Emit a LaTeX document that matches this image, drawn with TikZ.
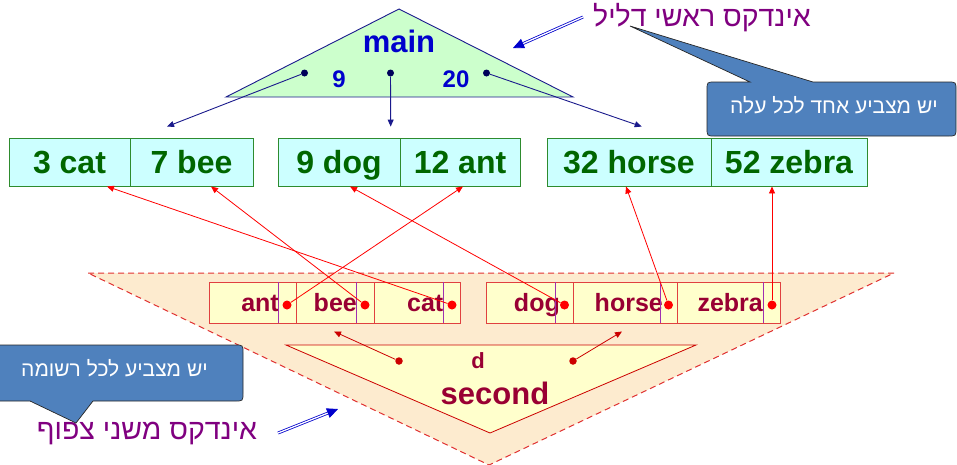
\documentclass[tikz,border=0pt]{standalone}
\usepackage{fontspec}
\setmainfont{Liberation Sans}
\newfontfamily\hebfont[Script=Hebrew]{Liberation Sans}
\TeXXeTstate=1
\usetikzlibrary{arrows.meta}

\definecolor{navy}{HTML}{1A1A8C}
\definecolor{mainblue}{HTML}{0000CC}
\definecolor{dotnavy}{HTML}{00005A}
\definecolor{treegreen}{HTML}{CCFFCC}
\definecolor{leaffill}{HTML}{CCFFFF}
\definecolor{leafborder}{HTML}{2E8B2E}
\definecolor{leaftext}{HTML}{006600}
\definecolor{peach}{HTML}{FDEBCF}
\definecolor{dashred}{HTML}{E03030}
\definecolor{paleyellow}{HTML}{FFFFCC}
\definecolor{cellred}{HTML}{E04040}
\definecolor{crimson}{HTML}{990033}
\definecolor{keypurple}{HTML}{A030B0}
\definecolor{ptrred}{HTML}{FF0000}
\definecolor{darkred}{HTML}{CC0000}
\definecolor{calloutblue}{HTML}{4F81BD}
\definecolor{titlepurple}{HTML}{800080}
\definecolor{dblblue}{HTML}{0000CC}

\begin{document}
\begin{tikzpicture}[x=1pt,y=-1pt,
  leaf/.style={draw=leafborder, line width=0.9pt, fill=leaffill, minimum height=48pt,
    inner sep=0pt, text height=22.5pt, text depth=0pt, text=leaftext,
    font=\fontsize{32}{36}\selectfont\bfseries},
  cell/.style={draw=cellred, line width=1pt, fill=paleyellow, minimum height=41pt, inner sep=0pt},
  celltext/.style={anchor=base east, inner sep=0pt, text=crimson,
    font=\fontsize{25}{30}\selectfont\bfseries},
  keyline/.style={draw=keypurple, line width=0.9pt},
  reddot/.style={circle, fill=ptrred, inner sep=0pt, minimum size=9pt},
  innerdot/.style={circle, fill=darkred, inner sep=0pt, minimum size=7.5pt},
  topdot/.style={circle, fill=dotnavy, inner sep=0pt, minimum size=7pt},
  redptr/.style={draw=ptrred, line width=0.8pt, -{Triangle[length=7pt,width=6pt]}},
  innerptr/.style={draw=darkred, line width=0.8pt, -{Triangle[length=7pt,width=6pt]}},
  blueptr/.style={draw=navy, line width=0.9pt, -{Triangle[length=7pt,width=6pt]}},
  dblarrow/.style={draw=dblblue, double=white, double distance=1.3pt, line width=0.8pt,
    -{Triangle[length=11pt,width=10pt]}},
  callout/.style={fill=calloutblue, draw=black!85, line width=0.7pt},
  callouttext/.style={text=white, font=\hebfont\fontsize{21}{24}\selectfont},
  title/.style={text=titlepurple, font=\hebfont\fontsize{28.5}{32}\selectfont}
]
\useasboundingbox (0,0) rectangle (957,464);

% ---------- secondary dense index (outer band) ----------
\draw[fill=peach, draw=dashred, line width=1pt, dash pattern=on 6pt off 4pt]
  (88,273) -- (894,273) -- (489,465) -- cycle;
\draw[fill=paleyellow, draw=darkred, line width=0.8pt]
  (286,345) -- (696,345) -- (490,433) -- cycle;
\node[anchor=base, inner sep=0pt, text=crimson, font=\fontsize{22}{26}\selectfont\bfseries]
  (dlabel) at (478,368) {d};
\node[anchor=base, inner sep=0pt, text=crimson, font=\fontsize{31}{36}\selectfont\bfseries]
  (second) at (495,404) {second};

% record cells of the secondary index
\node[cell, minimum width=87pt]   (sant)   at (252.5,302.5) {};
\node[cell, minimum width=78pt]   (sbee)   at (335,302.5) {};
\node[cell, minimum width=86pt]   (scat)   at (417,302.5) {};
\node[cell, minimum width=86.5pt] (sdog)   at (529.75,302.5) {};
\node[cell, minimum width=104pt]  (shorse) at (625,302.5) {};
\node[cell, minimum width=103.5pt](szebra) at (728.75,302.5) {};

\node[celltext] (tant)   at (279,311) {ant};
\node[celltext] (tbee)   at (357,311) {bee};
\node[celltext] (tcat)   at (443.5,311) {cat};
\node[celltext] (tdog)   at (560,311) {dog};
\node[celltext] (thorse) at (663,311) {horse};
\node[celltext] (tzebra) at (763,311) {zebra};

\foreach \k in {278.3,356.3,443,555.7,660,763.7}
  \draw[keyline] (\k,282) -- (\k,323);

\node[reddot] (pant)   at (287,305) {};
\node[reddot] (pbee)   at (365,305) {};
\node[reddot] (pcat)   at (452,305) {};
\node[reddot] (pdog)   at (564.5,305) {};
\node[reddot] (phorse) at (668.5,305) {};
\node[reddot] (pzebra) at (772,305) {};

\node[innerdot] (dleft)  at (399,361) {};
\node[innerdot] (dright) at (573,361) {};
\draw[innerptr] (dleft)  -- ([xshift=-1pt,yshift=-8pt]sbee.south);
\draw[innerptr] (dright) -- ([xshift=-3pt,yshift=-8pt]shorse.south);

% ---------- main sparse index ----------
\draw[fill=treegreen, draw=navy, line width=0.9pt]
  (399,9) -- (573,97) -- (226,97) -- cycle;
\node[anchor=base, inner sep=0pt, text=mainblue, font=\fontsize{31}{36}\selectfont\bfseries]
  (main) at (399,52) {main};
\node[anchor=base, inner sep=0pt, text=mainblue, font=\fontsize{24}{28}\selectfont\bfseries]
  (k9) at (339,87) {9};
\node[anchor=base, inner sep=0pt, text=mainblue, font=\fontsize{24}{28}\selectfont\bfseries]
  (k20) at (456,87) {20};
\node[topdot] (tl) at (304.5,73) {};
\node[topdot] (tm) at (390.5,73) {};
\node[topdot] (tr) at (486.5,73) {};

% ---------- leaves ----------
\node[leaf, minimum width=121pt] (l3cat)    at (69.5,162)  {3 cat};
\node[leaf, minimum width=123pt] (l7bee)    at (191.5,162) {7 bee};
\node[leaf, minimum width=122pt] (l9dog)    at (339,162)   {9 dog};
\node[leaf, minimum width=120pt] (l12ant)   at (460,162)   {12 ant};
\node[leaf, minimum width=164pt] (l32horse) at (629,162)   {32 horse};
\node[leaf, minimum width=156pt] (l52zebra) at (789,162)   {52 zebra};

\draw[blueptr] (tl) -- ([xshift=-24.5pt,yshift=11pt]l7bee.north);
\draw[blueptr] (tm) -- ([xshift=51.7pt,yshift=11pt]l9dog.north);
\draw[blueptr] (tr) -- ([xshift=12.7pt,yshift=11pt]l32horse.north);

% record pointers into the leaves
\draw[redptr] (pant)   -- ([xshift=3pt]l12ant.south);
\draw[redptr] (pbee)   -- ([xshift=19.5pt]l7bee.south);
\draw[redptr] (pcat)   -- ([xshift=37.5pt]l3cat.south);
\draw[redptr] (pdog)   -- ([xshift=11pt]l9dog.south);
\draw[redptr] (phorse) -- ([xshift=-3pt]l32horse.south);
\draw[redptr] (pzebra) -- ([xshift=-17pt]l52zebra.south);

% ---------- titles and callouts ----------
\node[title] (ttop) at (702,18) {\beginR אינדקס ראשי דליל\endR};
\node[title] (tbot) at (147,433) {\beginR אינדקס משני צפוף\endR};

\coordinate (dtip1) at (513,48);
\coordinate (dtail1) at (583,17);
\coordinate (dtip2) at (338,409);
\coordinate (dtail2) at (278,433);
\draw[dblarrow] (dtail1) -- (dtip1);
\draw[dblarrow] (dtail2) -- (dtip2);

\path[callout] (750,82) -- (630,26) -- (813,82) -- (948,82)
  .. controls (956,82) .. (956,90) -- (956,128)
  .. controls (956,136) .. (948,136) -- (715,136)
  .. controls (707,136) .. (707,128) -- (707,90)
  .. controls (707,82) .. (715,82) -- cycle;
\node[callouttext] (cleaf) at (834,105) {\beginR יש מצביע אחד לכל עלה\endR};

\path[callout] (93,401) -- (76,423) -- (30,401) -- (-6,401) -- (-6,345) -- (235,345)
  .. controls (243,345) .. (243,353) -- (243,393)
  .. controls (243,401) .. (235,401) -- cycle;
\node[callouttext] (crec) at (114.5,368) {\beginR יש מצביע לכל רשומה\endR};
\end{tikzpicture}
\end{document}
